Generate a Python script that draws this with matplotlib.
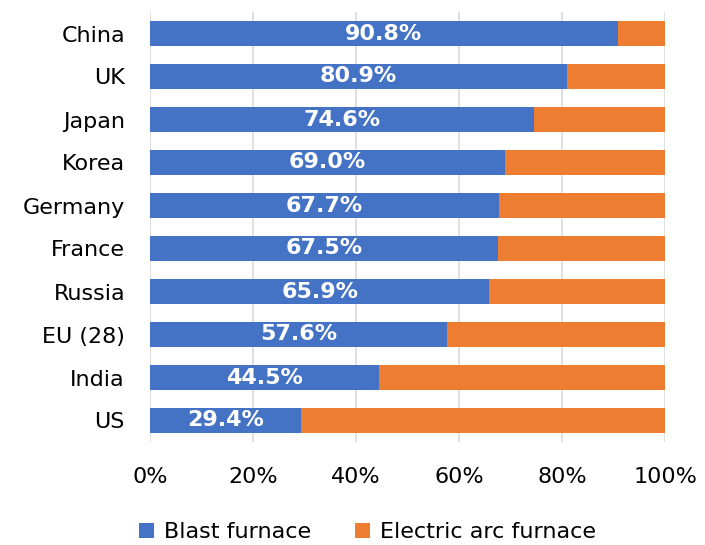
import matplotlib
matplotlib.use("Agg")
import matplotlib.pyplot as plt
from matplotlib.ticker import FuncFormatter

countries = ["China", "UK", "Japan", "Korea", "Germany", "France", "Russia", "EU (28)", "India", "US"]
blast = [90.8, 80.9, 74.6, 69.0, 67.7, 67.5, 65.9, 57.6, 44.5, 29.4]
eaf = [9.2, 19.1, 25.4, 31.0, 32.3, 32.5, 34.1, 42.4, 55.5, 70.6]
xticks = [0, 20, 40, 60, 80, 100]

BLUE = "#4472C4"
ORANGE = "#ED7D31"

fig = plt.figure(figsize=(7.05, 5.45), dpi=100)
ax = fig.add_axes([150/705, 1-442/545, 515/705, 430/545])

y = list(range(len(countries)))
b1 = ax.barh(y, blast, height=0.6, color=BLUE, label="Blast furnace", zorder=3)
b2 = ax.barh(y, eaf, left=blast, height=0.6, color=ORANGE, label="Electric arc furnace", zorder=3)

for yi, v in zip(y, blast):
    ax.text(v/2, yi, f"{v:.1f}%", ha="center", va="center", color="white",
            fontsize=16, fontweight="bold", zorder=4)

ax.set_xlim(0, 100)
ax.set_ylim(len(countries)-0.5, -0.5)
ax.set_yticks(y)
ax.set_yticklabels(countries, fontsize=16)
ax.set_xticks(xticks)
ax.xaxis.set_major_formatter(FuncFormatter(lambda v, p: f"{int(v)}%"))
ax.tick_params(axis="x", labelsize=16, length=0, pad=18)
ax.tick_params(axis="y", length=0, pad=18)
ax.grid(axis="x", color="#DDDDDD", linewidth=1.3, zorder=0)
for s in ax.spines.values():
    s.set_visible(False)

leg = fig.legend(handles=[b1, b2], loc="center", bbox_to_anchor=(0.521, 1-532/545),
                 ncol=2, frameon=False, fontsize=16, handlelength=0.65, handleheight=0.65,
                 handletextpad=0.45, columnspacing=2.0)

fig.savefig("out.png", dpi=100)
